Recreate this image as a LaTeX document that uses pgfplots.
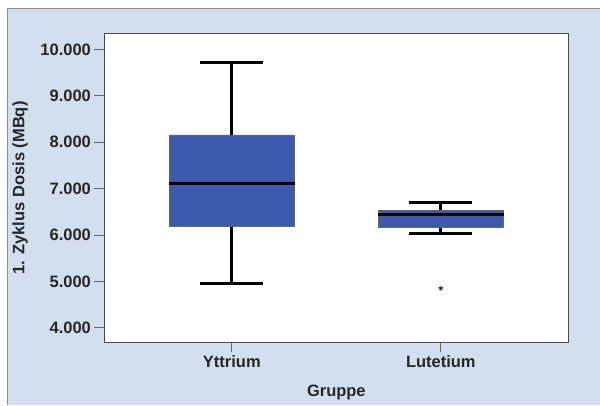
\documentclass[border=0pt]{standalone}
\usepackage{pgfplots}
\pgfplotsset{compat=1.18}
\usepackage{fontspec}
\setmainfont{Liberation Sans}
\definecolor{panel}{RGB}{211,223,238}
\definecolor{boxblue}{RGB}{62,88,170}
\begin{document}
\begin{tikzpicture}
\fill[white] (0pt,0pt) rectangle (600pt,405pt);
\fill[panel] (7.5pt,0pt) rectangle (600pt,397pt);
\draw[black!45, line width=0.6pt] (7.5pt,0pt) -- (7.5pt,397pt) -- (600pt,397pt);
\fill[white] (104pt,62pt) rectangle (569pt,372pt);
\begin{axis}[
  at={(104pt,62pt)}, anchor=south west,
  scale only axis, width=465pt, height=310pt,
  xmin=0.388, xmax=2.612, ymin=3.677, ymax=10.355,
  xtick={1,2}, xticklabels={Yttrium,Lutetium},
  ytick={4,5,6,7,8,9,10},
  yticklabels={4.000,5.000,6.000,7.000,8.000,9.000,10.000},
  axis line style={black!70, line width=0.8pt},
  tick align=outside, xtick pos=bottom, ytick pos=left,
  major tick length=9.5pt,
  tick style={black!60, line width=0.9pt},
  ticklabel style={font=\bfseries\fontsize{16.5}{18}\selectfont, black!85},
  label style={font=\bfseries\fontsize{16.5}{18}\selectfont, black!85},
  xlabel={Gruppe}, ylabel={1. Zyklus Dosis (MBq)},
  xlabel style={at={(axis description cs:0.5,-0.161)}, anchor=center},
  ylabel style={at={(axis description cs:-0.1806,0.5)}, anchor=center},
  whisk/.style={black, line width=3pt, forget plot},
]
% Yttrium: whiskers 4.946 / 9.71, box 6.196 - 8.157, median 7.116
\addplot[whisk] coordinates {(1,8.157) (1,9.71)};
\addplot[whisk] coordinates {(1,6.196) (1,4.946)};
\addplot[whisk] coordinates {(0.85,9.71) (1.15,9.71)};
\addplot[whisk] coordinates {(0.85,4.946) (1.15,4.946)};
\addplot[fill=boxblue, draw=black!60, line width=0.7pt]
  coordinates {(0.7,6.196) (1.3,6.196) (1.3,8.157) (0.7,8.157) (0.7,6.196)};
\addplot[whisk, line width=3.2pt] coordinates {(0.7,7.116) (1.3,7.116)};
% Lutetium: whiskers 6.03 / 6.692, box 6.168 - 6.526, median 6.44
\addplot[whisk] coordinates {(2,6.526) (2,6.692)};
\addplot[whisk] coordinates {(2,6.168) (2,6.03)};
\addplot[whisk] coordinates {(1.85,6.692) (2.15,6.692)};
\addplot[whisk] coordinates {(1.85,6.03) (2.15,6.03)};
\addplot[fill=boxblue, draw=black!60, line width=0.7pt]
  coordinates {(1.7,6.168) (2.3,6.168) (2.3,6.526) (1.7,6.526) (1.7,6.168)};
\addplot[whisk, line width=3.2pt] coordinates {(1.7,6.44) (2.3,6.44)};
% outlier
\addplot[only marks, mark=asterisk, mark size=2.5pt, black!85,
  mark options={line width=0.8pt}] coordinates {(2,4.853)};
\end{axis}
\end{tikzpicture}
\end{document}
